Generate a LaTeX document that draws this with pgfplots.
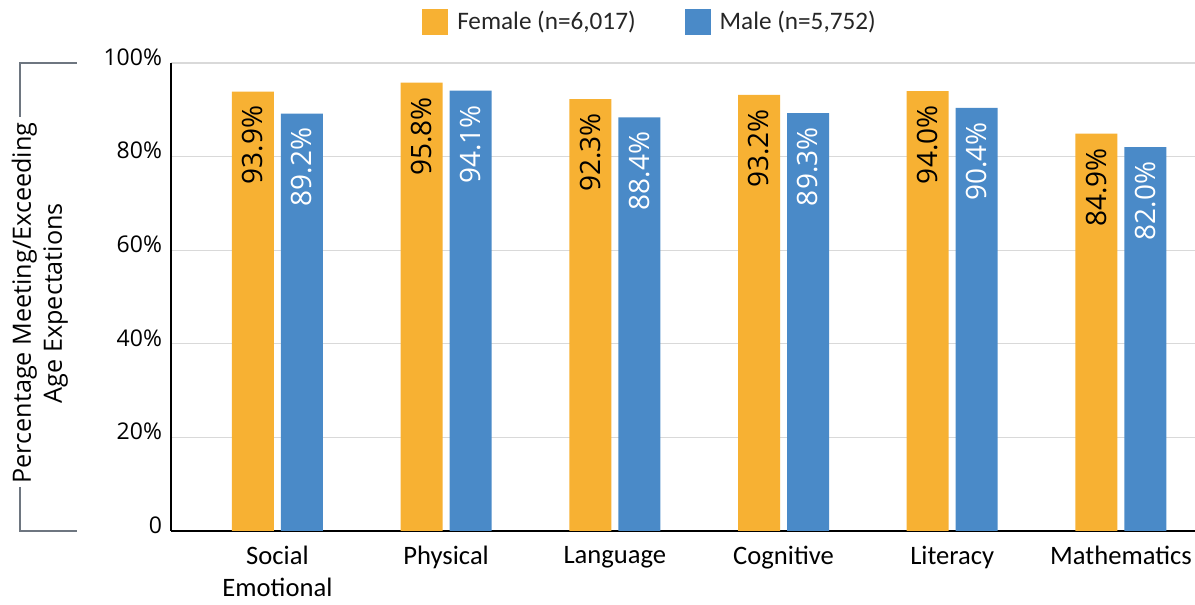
\documentclass[border=0pt]{standalone}
\usepackage{pgfplots}
\pgfplotsset{compat=1.18}
\usepackage{fontspec}
\setmainfont{Carlito}
\newfontfamily\osans{Open Sans}
\definecolor{fem}{HTML}{F7B133}
\definecolor{mal}{HTML}{4A8AC8}
\definecolor{brk}{HTML}{6E7680}
\definecolor{grd}{HTML}{D9D9D9}
\begin{document}
\begin{tikzpicture}
\useasboundingbox (-85.5pt,-37pt) rectangle (512pt,265.5pt);
\begin{axis}[
  at={(0,0)}, anchor=south west,
  scale only axis, width=512pt, height=234pt,
  xmin=-0.631, xmax=5.439, ymin=0, ymax=100,
  axis x line*=bottom, axis y line*=left,
  axis line style={-, line width=1pt, black},
  major tick length=0pt,
  ytick={0,20,40,60,80,100},
  yticklabels={0,20\%,40\%,60\%,80\%,100\%},
  yticklabel style={font=\osans\fontsize{11.5}{13}\selectfont, yshift=3pt, xshift=-1pt},
  xtick={0,1,2,3,4,5},
  xticklabels={{Social\\Emotional},Physical,Language,Cognitive,Literacy,Mathematics},
  xticklabel style={font=\fontsize{13.3}{16}\selectfont, align=center, yshift=-4pt},
  ymajorgrids, grid style={draw=grd, line width=0.6pt},
  ylabel={Percentage Meeting/Exceeding\\Age Expectations},
  ylabel style={at={(axis description cs:-0.128,0.487)}, anchor=center, align=center,
    font=\osans\fontsize{12.6}{15.5}\selectfont},
  clip=false,
  ybar=3.5pt,
  bar width=21pt,
  legend style={at={(0.245,1)}, anchor=west, yshift=20.5pt, draw=none, fill=none,
    inner sep=0pt, font=\fontsize{12.6}{14}\selectfont, text=black!85,
    legend cell align=left,
    /tikz/every odd column/.append style={column sep=2.5pt},
    /tikz/every even column/.append style={column sep=22.5pt}},
  legend columns=2,
  legend image code/.code={\fill[#1,draw=none] (0pt,-6.5pt) rectangle (13pt,6.5pt);},
  nodes near coords={\pgfmathprintnumber[fixed,fixed zerofill,precision=1,assume math mode=true]{\pgfplotspointmeta}\%},
  every node near coord/.append style={font=\osans\fontsize{14}{16}\selectfont, rotate=90, anchor=east, inner xsep=7pt, inner ysep=0pt},
]
\addplot[fill=fem, draw=none, every node near coord/.append style={text=black}]
  coordinates {(0,93.9) (1,95.8) (2,92.3) (3,93.2) (4,94.0) (5,84.9)};
\addlegendentry{Female (n=6,017)}
\addplot[fill=mal, draw=none, every node near coord/.append style={text=white}]
  coordinates {(0,89.2) (1,94.1) (2,88.4) (3,89.3) (4,90.4) (5,82.0)};
\addlegendentry{Male (n=5,752)}
\end{axis}
\draw[brk, line width=1pt] (-47pt,234pt) -- (-75.5pt,234pt) -- (-75.5pt,207pt);
\draw[brk, line width=1pt] (-75.5pt,22pt) -- (-75.5pt,0pt) -- (-47pt,0pt);
\end{tikzpicture}
\end{document}
